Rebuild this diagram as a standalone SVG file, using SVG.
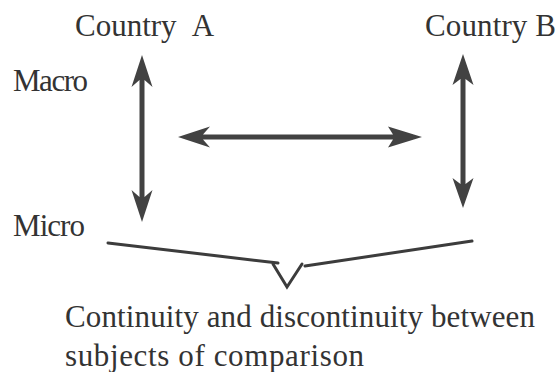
<svg xmlns="http://www.w3.org/2000/svg" width="559" height="372" viewBox="0 0 559 372">
<style>
text{font-family:'Liberation Serif','DejaVu Serif',serif;font-size:31px;fill:#333}
.arr{fill:#424242}
.ln{stroke:#3c3c3c;stroke-width:3;fill:none;stroke-linecap:round}
</style>
<rect width="559" height="372" fill="#fff"/>
<g id="countryA"><text x="75" y="36">Country<tspan dx="9"> A</tspan></text></g>
<g id="countryB"><text x="425" y="36" textLength="131">Country B</text></g>
<g id="macro"><text x="13" y="91" textLength="75">Macro</text></g>
<g id="micro"><text x="13" y="236" textLength="72">Micro</text></g>
<g id="caption">
<text x="65" y="327" textLength="470">Continuity and discontinuity between</text>
<text x="65" y="366" textLength="299">subjects of comparison</text>
</g>
<g id="connectors">
<polygon class="arr" points="142,55 152.5,87 144.5,80 144.5,197 152.5,190 142,222 131.5,190 139.5,197 139.5,80 131.5,87"/>
<polygon class="arr" points="463,54 473.5,85 465.5,79 465.5,184 473.5,178 463,208 452.5,178 460.5,184 460.5,79 452.5,85"/>
<polygon class="arr" points="178,137 210,126.5 203,134.5 393,134.5 388,126.5 422,137 388,147.5 393,139.5 203,139.5 210,147.5"/>
<polyline class="ln" points="108,243 278,263"/>
<polyline class="ln" points="273,264 287,287 302,264"/>
<polyline class="ln" points="305,266 472,241"/>
</g>
</svg>
